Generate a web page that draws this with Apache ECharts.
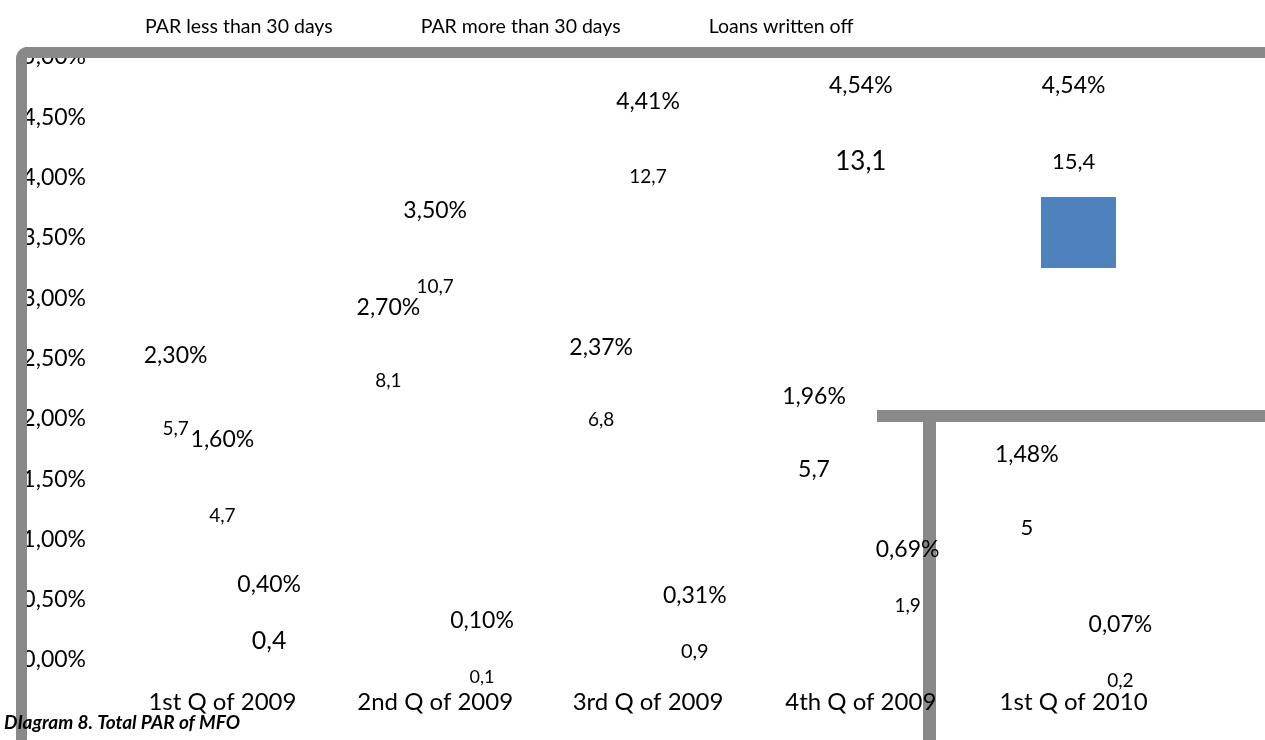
<!DOCTYPE html>
<html>
<head>
<meta charset="utf-8">
<script src="https://cdn.jsdelivr.net/npm/echarts@6/dist/echarts.min.js"></script>
<style>
  html, body { margin: 0; padding: 0; background: #fff; }
  #par-chart { width: 1265px; height: 740px; }
</style>
</head>
<body>
<div id="par-chart"></div>
<script>
const quarters = ['1st Q of 2009', '2nd Q of 2009', '3rd Q of 2009', '4th Q of 2009', '1st Q of 2010'];
const seriesNames = ['PAR less than 30 days', 'PAR more than 30 days', 'Loans written off'];

// share of portfolio, %
const parLess30 = [2.30, 2.70, 2.37, 1.96, 1.48];
const parMore30 = [1.60, 3.50, 4.41, 4.54, 4.54];
const writtenOff = [0.40, 0.10, 0.31, 0.69, 0.07];

// amounts shown under each percentage
const parLess30Amt = [5.7, 8.1, 6.8, 5.7, 5];
const parMore30Amt = [4.7, 10.7, 12.7, 13.1, 15.4];
const writtenOffAmt = [0.4, 0.1, 0.9, 1.9, 0.2];

const yTicks = [0, 0.5, 1, 1.5, 2, 2.5, 3, 3.5, 4, 4.5, 5];

// font sizes of the amount labels (they differ in the original)
const amtSizes = [
  [19, 19, 19, 23, 22],
  [19, 19, 19, 26, 22],
  [25, 18, 20, 19, 19]
];

const FONT = 'Lato';
const comma = (v, d) => v.toFixed(d).replace('.', ',');
const amtText = v => Number.isInteger(v) ? String(v) : comma(v, 1);

// percentage on first line, amount further down
const makeSeries = (idx, values, amounts, gap) => {
  const rich = { p: { fontFamily: FONT, fontSize: 23, lineHeight: 30, color: '#000' } };
  amtSizes[idx].forEach(s => {
    rich['c' + s] = { fontFamily: FONT, fontSize: s, lineHeight: gap, color: '#000' };
  });
  return {
    name: seriesNames[idx],
    type: 'bar',
    barWidth: 36,
    barGap: '30%',
    data: values,
    itemStyle: { color: 'rgba(0,0,0,0)' },
    label: {
      show: true,
      position: 'insideTop',
      distance: 0,
      offset: [0, -42],
      formatter: p => '{p|' + comma(p.value, 2) + '%}\n{c' + amtSizes[idx][p.dataIndex] + '|' + amtText(amounts[p.dataIndex]) + '}',
      rich: rich
    }
  };
};

const chart = echarts.init(document.getElementById('par-chart'));

chart.setOption({
  animation: false,
  textStyle: { fontFamily: FONT },
  legend: {
    data: seriesNames,
    left: 135,
    top: 12,
    itemWidth: 0,
    itemHeight: 0,
    itemGap: 83,
    textStyle: { fontFamily: FONT, fontSize: 19.5, color: '#000' }
  },
  title: {
    text: 'DIagram 8. Total PAR of MFO',
    left: -1,
    top: 708,
    textStyle: { fontFamily: FONT, fontSize: 19, fontWeight: 'bold', fontStyle: 'italic', color: '#000' }
  },
  grid: { left: 116, right: 85, top: 57, bottom: 80 },
  xAxis: {
    type: 'category',
    data: quarters,
    z: 5,
    axisLine: { show: false },
    axisTick: { show: false },
    axisLabel: { margin: 30, fontFamily: FONT, fontSize: 24, color: '#000' }
  },
  yAxis: {
    type: 'value',
    min: 0,
    max: 5,
    interval: 0.5,
    z: 0,
    axisLine: { show: false },
    axisTick: { show: false },
    splitLine: { show: false },
    axisLabel: {
      margin: 30,
      fontFamily: FONT,
      fontSize: 23,
      color: '#000',
      formatter: v => yTicks.includes(v) ? comma(v, 2) + '%' : ''
    }
  },
  graphic: [
    // outer frame, top-left corner only visible
    {
      type: 'rect', z: 1,
      shape: { x: 21.5, y: 52.5, width: 1400, height: 1000, r: 6 },
      style: { fill: 'none', stroke: '#898989', lineWidth: 11 }
    },
    // inner frame in the lower right
    {
      type: 'rect', z: 1,
      shape: { x: 877, y: 410, width: 400, height: 12 },
      style: { fill: '#898989' }
    },
    {
      type: 'rect', z: 1,
      shape: { x: 923, y: 410, width: 13, height: 340 },
      style: { fill: '#898989' }
    },
    // stray legend swatch
    {
      type: 'rect', z: 1,
      shape: { x: 1041, y: 197, width: 75, height: 71 },
      style: { fill: '#4f81bd' }
    }
  ],
  series: [
    makeSeries(0, parLess30, parLess30Amt, 116),
    makeSeries(1, parMore30, parMore30Amt, 122),
    makeSeries(2, writtenOff, writtenOffAmt, 82)
  ]
});
</script>
</body>
</html>
